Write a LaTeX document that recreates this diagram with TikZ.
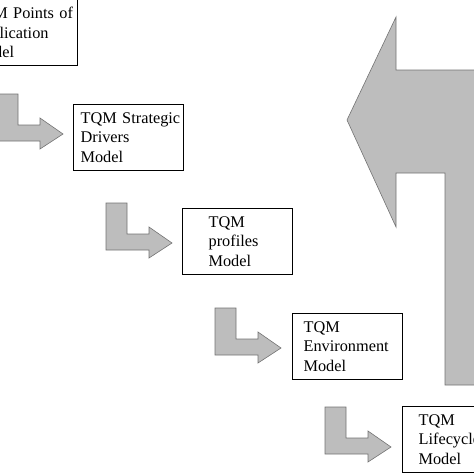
\documentclass[tikz,border=0pt]{standalone}
\usepackage{fontspec}
\setmainfont{Liberation Serif}
\usepackage{tikz}

\tikzset{
    modelbox/.style={draw, line width=1.2pt, minimum width=110pt, minimum height=66pt,
        inner xsep=0pt, inner ysep=0pt, anchor=north west, align=left, text width=#1,
        font=\fontsize{16.3}{19.6}\selectfont},
    blockarrow/.style={fill=gray!52, draw=black!55, line width=0.6pt},
}

\begin{document}
\begin{tikzpicture}[x=1pt,y=-1pt]
    \useasboundingbox (0,0) rectangle (474,474);
    % Big return arrow on the right:
    \draw [blockarrow] (347,120) -- (396,17) -- (396,70) -- (485,70) -- (485,385)
        -- (445,385) -- (445,173) -- (396,173) -- (396,227) -- cycle;

    % L-shaped arrows leading into each model box:
    \foreach \x/\y in {-3/94, 106/203, 215/308, 325/407}{%
        \draw [blockarrow, shift={(\x,\y)}] (0,0) -- (21,0) -- (21,31) -- (43,31)
            -- (43,24) -- (66,40) -- (43,55) -- (43,47) -- (0,47) -- cycle;}

    % The model boxes, stepping down to the right:
    \node [modelbox=102pt] (points)     at (-33,-1)  {\mbox{TQM Points of}\\Application\\Model};
    \node [modelbox=96pt] (drivers)     at (73,104)  {\mbox{TQM Strategic}\\Drivers\\Model};
    \node [modelbox=58pt] (profiles)    at (182,208) {TQM\\profiles\\Model};
    \node [modelbox=88pt] (environment) at (292,313) {TQM\\Environment\\Model};
    \node [modelbox=78pt] (lifecycle)   at (402,406) {TQM\\Lifecycle\\Model};
\end{tikzpicture}
\end{document}
